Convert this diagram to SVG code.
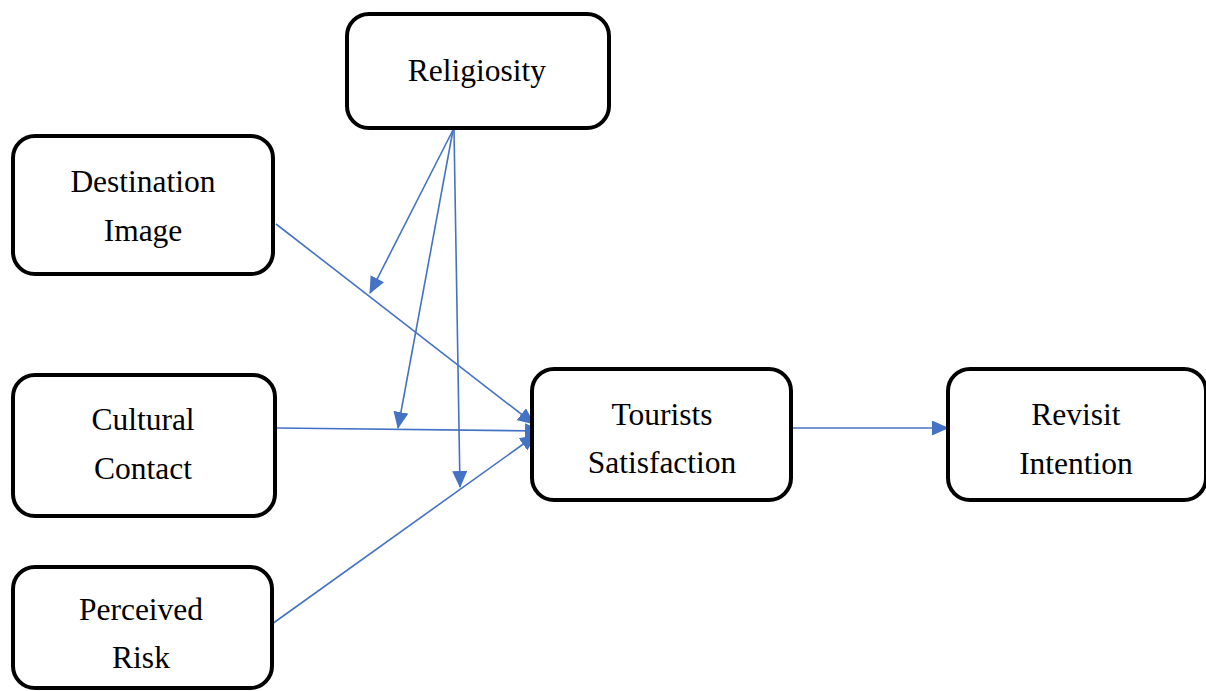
<svg xmlns="http://www.w3.org/2000/svg" width="1206" height="691" viewBox="0 0 1206 691">
<style>
.box{fill:#fff;stroke:#000;stroke-width:4}
.t{font-family:"Liberation Serif","Times New Roman",serif;font-size:31.5px;fill:#000;text-anchor:middle}
.c{stroke:#4472C4;stroke-width:1.6;fill:none;marker-end:url(#ah)}
</style>
<defs>
<marker id="ah" markerUnits="userSpaceOnUse" markerWidth="17" markerHeight="15" refX="16" refY="7.5" orient="auto">
<path d="M0,0 L17,7.5 L0,15 Z" fill="#4472C4"/>
</marker>
</defs>
<rect width="1206" height="691" fill="#fff"/>
<g id="connectors">
<line class="c" x1="276" y1="224" x2="534" y2="424"/>
<line class="c" x1="277" y1="428" x2="541" y2="431"/>
<line class="c" x1="272" y1="624" x2="536" y2="435"/>
<line class="c" x1="453" y1="130" x2="370" y2="293"/>
<line class="c" x1="453" y1="130" x2="398" y2="428"/>
<line class="c" x1="454" y1="130" x2="460" y2="487"/>
<line class="c" x1="793" y1="428" x2="948" y2="428"/>
</g>
<g id="religiosity">
<rect class="box" x="347" y="14" width="262" height="114" rx="22"/>
<text class="t" x="477" y="81">Religiosity</text>
</g>
<g id="destination-image">
<rect class="box" x="13" y="136" width="260" height="138" rx="22"/>
<text class="t" x="143" y="192">Destination</text>
<text class="t" x="143" y="241">Image</text>
</g>
<g id="cultural-contact">
<rect class="box" x="13" y="375" width="262" height="141" rx="22"/>
<text class="t" x="143" y="430">Cultural</text>
<text class="t" x="143" y="479">Contact</text>
</g>
<g id="perceived-risk">
<rect class="box" x="13" y="567" width="259" height="121" rx="22"/>
<text class="t" x="141" y="620">Perceived</text>
<text class="t" x="141" y="668">Risk</text>
</g>
<g id="tourists-satisfaction">
<rect class="box" x="532" y="369" width="259" height="131" rx="22"/>
<text class="t" x="662" y="425">Tourists</text>
<text class="t" x="662" y="473">Satisfaction</text>
</g>
<g id="revisit-intention">
<rect class="box" x="948" y="369" width="258" height="131" rx="22"/>
<text class="t" x="1076" y="425">Revisit</text>
<text class="t" x="1076" y="474">Intention</text>
</g>
</svg>
